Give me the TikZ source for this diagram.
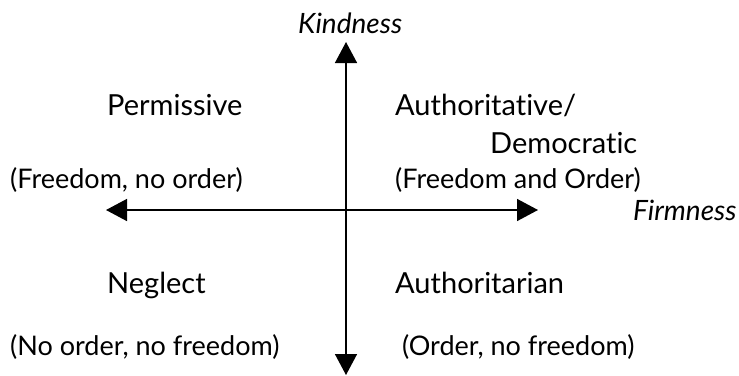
\documentclass[tikz,border=0pt]{standalone}
\usepackage{fontspec}
\setmainfont{Lato}[Ligatures={NoCommon}]
\usetikzlibrary{arrows.meta}
\begin{document}
\begin{tikzpicture}[x=1bp,y=-1bp,
  title/.style={anchor=base west,inner sep=0pt,font=\fontsize{29bp}{31bp}\selectfont},
  axislabel/.style={anchor=base west,inner sep=0pt,font=\fontsize{28bp}{30bp}\selectfont\itshape},
  paren/.style={anchor=base west,inner sep=0pt,font=\fontsize{27bp}{29bp}\selectfont},
  axis/.style={line width=1.5bp,{Triangle[length=21bp,width=22bp]}-{Triangle[length=21bp,width=22bp]}}]
\useasboundingbox (0,0) rectangle (739,375);
\coordinate (L) at (106,210);
\coordinate (R) at (538,210);
\coordinate (T) at (346,42);
\coordinate (B) at (346,375);
\draw[axis] (L) -- (R);
\draw[axis] (T) -- (B);
\node[axislabel] (kind) at (298,33) {Kindness};
\node[axislabel] (firm) at (633,220) {Firmness};
\node[title] (perm) at (107,115) {Permissive};
\node[title] (auth1) at (395,115) {Authoritative/};
\node[title] (auth2) at (490,153) {Democratic};
\node[paren] (permp) at (10,188) {(Freedom, no order)};
\node[paren] (authp) at (395,188) {(Freedom and Order)};
\node[title] (negl) at (107,293) {Neglect};
\node[title] (autt) at (395,293) {Authoritarian};
\node[paren] (neglp) at (10,355) {(No order, no freedom)};
\node[paren] (auttp) at (402,355) {(Order, no freedom)};
\end{tikzpicture}
\end{document}
